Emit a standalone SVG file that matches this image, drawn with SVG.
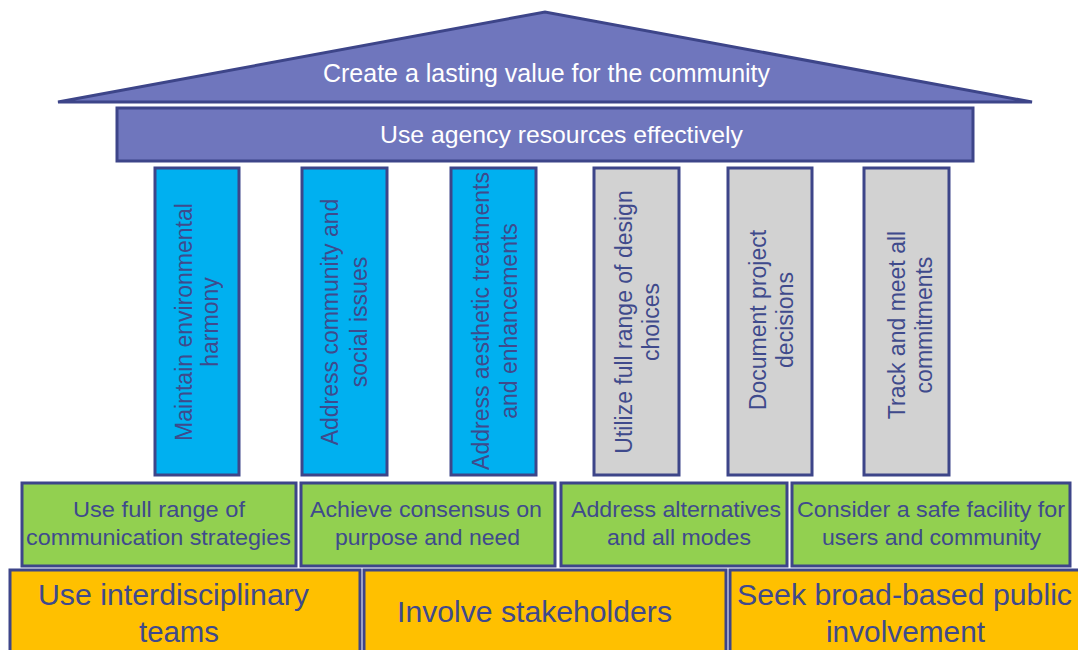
<svg xmlns="http://www.w3.org/2000/svg" width="1078" height="650" viewBox="0 0 1078 650">
  <style>
    .edge { stroke: #3d4589; stroke-width: 3; }
    .roof { fill: #6f76bd; }
    .blue { fill: #00b0f0; }
    .grey { fill: #d2d2d2; }
    .green { fill: #92d050; }
    .orange { fill: #ffc000; }
    text { font-family: "Liberation Sans", Arial, sans-serif; }
    .light { fill: #ffffff; }
    .dark { fill: #3f4a8c; }
    .col { font-size: 23px; text-anchor: middle; }
    .mid { font-size: 22px; }
    .base { font-size: 30px; }
  </style>
  <rect width="1078" height="650" fill="#ffffff"/>

  <!-- roof -->
  <g id="roof">
    <polygon class="roof edge" points="58,102 545,12 1032,102"/>
    <text class="light" x="323" y="82" font-size="25" textLength="447" lengthAdjust="spacingAndGlyphs">Create a lasting value for the community</text>
  </g>

  <!-- beam -->
  <g id="beam">
    <rect class="roof edge" x="117" y="108" width="856" height="53"/>
    <text class="light" x="380" y="143" font-size="24" textLength="363" lengthAdjust="spacingAndGlyphs">Use agency resources effectively</text>
  </g>

  <!-- pillars -->
  <g id="pillar-1">
    <rect class="blue edge" x="155" y="168" width="84" height="307"/>
    <text class="dark col" transform="translate(197,322) rotate(-90)"><tspan x="0" y="-5">Maintain environmental</tspan><tspan x="0" y="21">harmony</tspan></text>
  </g>
  <g id="pillar-2">
    <rect class="blue edge" x="302" y="168" width="85" height="307"/>
    <text class="dark col" transform="translate(344.5,322) rotate(-90)"><tspan x="0" y="-7">Address community and</tspan><tspan x="0" y="22">social issues</tspan></text>
  </g>
  <g id="pillar-3">
    <rect class="blue edge" x="451" y="168" width="85" height="307"/>
    <text class="dark col" transform="translate(493.5,321) rotate(-90)"><tspan x="0" y="-5">Address aesthetic treatments</tspan><tspan x="0" y="23">and enhancements</tspan></text>
  </g>
  <g id="pillar-4">
    <rect class="grey edge" x="594" y="168" width="85" height="307"/>
    <text class="dark col" transform="translate(636.5,322) rotate(-90)"><tspan x="0" y="-5">Utilize  full range of design</tspan><tspan x="0" y="22">choices</tspan></text>
  </g>
  <g id="pillar-5">
    <rect class="grey edge" x="728" y="168" width="84" height="307"/>
    <text class="dark col" transform="translate(770,320) rotate(-90)"><tspan x="0" y="-4">Document  project</tspan><tspan x="0" y="23">decisions</tspan></text>
  </g>
  <g id="pillar-6">
    <rect class="grey edge" x="864" y="168" width="85" height="307"/>
    <text class="dark col" transform="translate(906.5,325) rotate(-90)"><tspan x="0" y="-2">Track and meet all</tspan><tspan x="0" y="25">commitments</tspan></text>
  </g>

  <!-- middle course -->
  <g id="step-1">
    <rect class="green edge" x="22" y="483" width="274" height="83"/>
    <text class="dark mid"><tspan x="73" y="517" textLength="172" lengthAdjust="spacingAndGlyphs">Use full range of</tspan><tspan x="26" y="545" textLength="265" lengthAdjust="spacingAndGlyphs">communication strategies</tspan></text>
  </g>
  <g id="step-2">
    <rect class="green edge" x="301" y="483" width="254" height="83"/>
    <text class="dark mid"><tspan x="310" y="517" textLength="232" lengthAdjust="spacingAndGlyphs">Achieve consensus on</tspan><tspan x="335" y="545" textLength="185" lengthAdjust="spacingAndGlyphs">purpose and need</tspan></text>
  </g>
  <g id="step-3">
    <rect class="green edge" x="561" y="483" width="226" height="83"/>
    <text class="dark mid"><tspan x="571" y="517" textLength="210" lengthAdjust="spacingAndGlyphs">Address alternatives</tspan><tspan x="607" y="545" textLength="144" lengthAdjust="spacingAndGlyphs">and all modes</tspan></text>
  </g>
  <g id="step-4">
    <rect class="green edge" x="792" y="483" width="278" height="83"/>
    <text class="dark mid"><tspan x="797" y="517" textLength="268" lengthAdjust="spacingAndGlyphs">Consider a safe facility for</tspan><tspan x="822" y="545" textLength="219" lengthAdjust="spacingAndGlyphs">users and community</tspan></text>
  </g>

  <!-- foundation -->
  <g id="base-1">
    <rect class="orange edge" x="10" y="570" width="350" height="90"/>
    <text class="dark base"><tspan x="38" y="605" textLength="271" lengthAdjust="spacingAndGlyphs">Use interdisciplinary</tspan><tspan x="139" y="642" textLength="80" lengthAdjust="spacingAndGlyphs">teams</tspan></text>
  </g>
  <g id="base-2">
    <rect class="orange edge" x="364" y="570" width="362" height="90"/>
    <text class="dark base" x="397" y="622" textLength="275" lengthAdjust="spacingAndGlyphs">Involve  stakeholders</text>
  </g>
  <g id="base-3">
    <rect class="orange edge" x="730" y="570" width="360" height="90"/>
    <text class="dark base"><tspan x="737" y="605" textLength="335" lengthAdjust="spacingAndGlyphs">Seek broad-based public</tspan><tspan x="826" y="642" textLength="159" lengthAdjust="spacingAndGlyphs">involvement</tspan></text>
  </g>

  <!-- no connectors in this figure -->
  <g id="connectors"/>
</svg>
